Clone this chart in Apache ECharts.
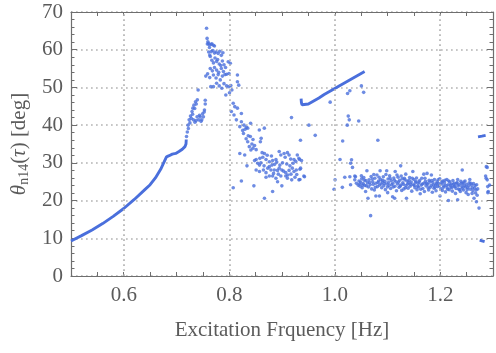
<!DOCTYPE html>
<html><head><meta charset="utf-8">
<script src="https://cdn.jsdelivr.net/npm/echarts@6/dist/echarts.min.js"></script>
<style>html,body{margin:0;padding:0;background:#fff}#c{width:496px;height:353px}</style>
</head><body><div id="c"></div>
<script>
// x tick labels and grid positions
const xLabels = ['0.6','0.8','1.0','1.2'];
const xGridValues = [0.6, 0.8, 1.0, 1.2];
// continuous low branch (dense points rendered as a thick line)
const curveLow = [[0.500,9.3],[0.520,10.7],[0.540,12.2],[0.560,13.9],[0.580,15.8],[0.600,17.9],[0.620,20.3],[0.640,22.9],[0.650,24.2],[0.660,26.0],[0.670,28.3],[0.675,29.8],[0.681,31.6],[0.686,31.9],[0.692,32.3],[0.6985,32.5],[0.7047,33.0],[0.711,33.6],[0.716,34.3],[0.718,35.0],[0.7185,36.2]];
// continuous upper branch
const curveUpper = [[0.9362,47.0],[0.9368,46.0],[0.938,45.4],[0.9415,44.9],[0.950,45.6],[0.960,46.4],[0.970,47.2],[0.980,48.1],[0.990,48.9],[1.000,49.7],[1.010,50.5],[1.020,51.3],[1.030,52.1],[1.040,52.9],[1.050,53.7],[1.0566,54.2]];
// short segments at right edge
const segHigh = [[1.2716,36.9],[1.279,37.1],[1.286,37.3]];
const segLow = [[1.2748,9.5],[1.279,9.3],[1.2841,9.1]];
// scattered points: rising streaks
const streaks = [[0.719,37.0],[0.7205,38.2],[0.722,40.0],[0.7225,39.1],[0.724,41.4],[0.7255,40.6],[0.7265,42.4],[0.728,41.8],[0.7295,43.6],[0.731,44.5],[0.7305,42.9],[0.733,45.3],[0.7345,44.4],[0.736,46.2],[0.7375,45.6],[0.7395,46.7],[0.741,49.3],[0.732,41.4],[0.735,40.8],[0.737,41.2],[0.739,42.2],[0.742,41.4],[0.7435,42.6],[0.745,42.2],[0.7465,41.0],[0.748,41.4],[0.7495,43.0],[0.751,42.2],[0.7525,43.5],[0.753,44.0],[0.7545,45.6],[0.7545,46.6]];
// peak cloud
const peakCloud = [[0.757,65.7],[0.758,63.0],[0.7595,62.1],[0.7585,61.5],[0.761,61.7],[0.762,61.3],[0.7625,60.6],[0.766,61.4],[0.767,61.6],[0.770,61.2],[0.772,61.0],[0.761,59.4],[0.763,58.6],[0.764,58.2],[0.766,59.5],[0.769,59.8],[0.772,59.1],[0.775,59.4],[0.779,59.0],[0.782,59.6],[0.785,58.5],[0.788,59.2],[0.767,57.2],[0.770,56.5],[0.773,57.8],[0.776,56.9],[0.778,57.4],[0.781,56.2],[0.784,55.8],[0.787,57.0],[0.790,56.0],[0.793,55.3],[0.798,56.8],[0.802,56.4],[0.764,55.0],[0.768,54.4],[0.772,55.3],[0.776,54.6],[0.780,54.0],[0.785,55.0],[0.789,54.2],[0.792,53.4],[0.7555,53.0],[0.759,53.6],[0.763,52.6],[0.770,53.3],[0.775,52.5],[0.779,53.4],[0.783,52.0],[0.787,53.0],[0.795,53.5],[0.7995,53.7],[0.765,50.2],[0.770,50.2],[0.776,51.1],[0.781,50.4],[0.786,49.8],[0.790,51.0],[0.795,50.4],[0.7995,50.2],[0.803,50.5],[0.805,49.3],[0.8005,48.6],[0.8155,51.5],[0.818,50.6],[0.7935,48.0],[0.8155,53.3]];
// descending cloud
const fallCloud = [[0.8075,45.8],[0.8105,44.9],[0.8155,44.5],[0.804,43.6],[0.809,42.7],[0.823,43.1],[0.8135,41.4],[0.823,40.9],[0.828,40.0],[0.8325,39.4],[0.8405,40.5],[0.820,39.6],[0.8255,38.6],[0.830,38.9],[0.835,39.2],[0.827,37.8],[0.836,37.2],[0.832,36.4],[0.840,37.0],[0.845,36.2],[0.835,35.6],[0.843,35.0],[0.838,34.3],[0.848,34.6],[0.841,33.4],[0.851,33.5],[0.845,33.9],[0.857,38.7],[0.8665,39.2],[0.8605,36.5],[0.859,35.6],[0.820,32.5],[0.8293,32.1],[0.8336,29.2],[0.823,25.2],[0.8075,23.4],[0.8467,23.9],[0.8667,20.6],[0.8822,22.4],[0.8997,23.9]];
// cluster around 0.85-0.94
const lowCluster = [[0.8623,32.7],[0.8667,32.5],[0.8636,31.5],[0.851,30.9],[0.854,29.9],[0.848,30.6],[0.8573,29.4],[0.8697,30.9],[0.876,30.3],[0.8822,30.6],[0.8885,30.9],[0.8947,33.0],[0.8978,32.1],[0.904,32.5],[0.9103,32.7],[0.9134,32.1],[0.906,31.5],[0.9165,31.0],[0.9227,30.9],[0.929,32.1],[0.9333,30.9],[0.937,30.6],[0.851,28.1],[0.8573,27.7],[0.8648,28.1],[0.8697,27.4],[0.876,29.0],[0.879,28.1],[0.881,29.4],[0.8854,28.1],[0.8916,28.0],[0.8947,28.6],[0.8997,28.1],[0.9071,27.4],[0.9134,28.0],[0.9196,28.6],[0.9227,27.7],[0.9271,28.1],[0.9352,28.6],[0.8697,26.2],[0.876,26.5],[0.8822,26.5],[0.8885,25.9],[0.8916,25.0],[0.8978,26.5],[0.9071,26.5],[0.9103,25.9],[0.9184,25.5],[0.9246,26.2],[0.9321,25.5],[0.9415,26.5],[0.858,31.2],[0.872,32.0],[0.880,31.8],[0.886,29.6],[0.890,30.2],[0.896,29.4],[0.901,30.0],[0.909,29.7],[0.915,29.2],[0.921,29.9],[0.926,30.4],[0.860,30.0],[0.866,29.2],[0.873,28.6],[0.884,27.2],[0.893,27.0],[0.903,27.8],[0.911,26.8],[0.917,27.0],[0.928,26.9],[0.932,31.2],[0.934,28.3],[0.9426,26.3],[0.934,25.6],[0.935,36.0],[0.951,40.0],[0.963,37.3],[0.918,42.0]];
// sparse points 0.99-1.09
const midSparse = [[0.9913,46.1],[1.0243,48.4],[1.0286,49.1],[1.0505,50.4],[1.0548,48.7],[1.0256,42.4],[1.0275,41.4],[1.0237,40.0],[1.0454,41.1],[1.015,35.8],[1.0817,36.0],[1.010,30.9],[1.0318,30.8],[1.030,29.9],[1.0336,28.8],[1.019,26.2],[1.0286,26.3],[1.0144,23.5],[1.0006,25.5],[0.9987,23.0],[1.0393,26.3],[1.0443,24.1],[1.038,26.5],[1.038,25.5],[1.0411,24.6],[1.030,24.2]];
// band 1.045-1.295
const band = [[1.046,25.2],[1.048,23.8],[1.049,24.9],[1.051,25.8],[1.052,23.4],[1.054,24.5],[1.055,26.1],[1.057,24.0],[1.0585,22.4],[1.059,25.3],[1.061,27.9],[1.062,24.7],[1.063,20.6],[1.064,23.6],[1.065,25.5],[1.067,24.2],[1.068,16.0],[1.069,26.4],[1.070,23.1],[1.072,25.0],[1.073,24.3],[1.075,22.8],[1.076,25.9],[1.078,21.2],[1.078,24.6],[1.080,26.8],[1.081,23.7],[1.083,25.2],[1.0847,21.2],[1.085,24.1],[1.086,27.9],[1.087,25.6],[1.089,23.4],[1.090,24.9],[1.092,26.3],[1.093,23.9],[1.095,25.1],[1.096,22.9],[1.0985,27.9],[1.099,24.4],[1.1003,22.1],[1.101,25.7],[1.103,24.0],[1.104,26.6],[1.106,23.2],[1.107,25.3],[1.1097,21.0],[1.110,24.6],[1.112,26.0],[1.1136,20.6],[1.114,23.8],[1.1146,27.7],[1.116,25.0],[1.117,22.6],[1.119,24.4],[1.120,26.2],[1.122,23.5],[1.123,25.4],[1.125,29.2],[1.125,24.1],[1.127,22.7],[1.128,25.8],[1.130,24.3],[1.131,23.1],[1.133,25.5],[1.1346,27.0],[1.135,24.0],[1.136,20.6],[1.137,25.2],[1.139,23.3],[1.140,24.7],[1.142,26.1],[1.143,23.8],[1.145,24.9],[1.146,22.5],[1.148,27.7],[1.149,24.2],[1.150,25.6],[1.152,23.4],[1.153,24.8],[1.155,26.0],[1.156,22.9],[1.158,24.5],[1.159,23.6],[1.161,25.3],[1.162,21.8],[1.164,24.1],[1.165,25.9],[1.1688,27.0],[1.167,23.2],[1.169,24.6],[1.170,22.4],[1.172,25.1],[1.173,23.9],[1.175,27.2],[1.176,24.3],[1.178,22.8],[1.179,25.4],[1.181,23.5],[1.1832,26.8],[1.183,24.0],[1.185,22.2],[1.186,24.8],[1.188,23.3],[1.189,25.6],[1.191,24.2],[1.192,22.6],[1.194,25.0],[1.195,23.7],[1.197,24.5],[1.1995,21.2],[1.199,25.8],[1.201,23.1],[1.202,24.4],[1.204,22.7],[1.205,25.2],[1.207,23.9],[1.208,24.7],[1.210,22.3],[1.2125,25.6],[1.213,23.4],[1.2155,20.0],[1.215,24.2],[1.217,22.9],[1.218,25.0],[1.220,23.6],[1.221,24.4],[1.223,22.5],[1.224,25.3],[1.226,23.8],[1.227,24.6],[1.229,21.9],[1.230,23.2],[1.233,25.6],[1.233,20.2],[1.232,24.8],[1.235,23.0],[1.236,24.2],[1.238,22.4],[1.239,25.1],[1.2417,28.1],[1.241,23.7],[1.243,24.5],[1.244,22.8],[1.246,23.9],[1.247,25.2],[1.249,22.1],[1.250,24.3],[1.252,23.4],[1.253,21.6],[1.255,24.7],[1.256,25.6],[1.257,23.0],[1.259,24.1],[1.2604,21.9],[1.262,22.6],[1.263,24.5],[1.264,20.6],[1.265,23.3],[1.2686,19.7],[1.267,22.0],[1.269,24.2],[1.2735,18.0],[1.271,23.1],[1.286,26.5],[1.2873,29.0],[1.289,28.8],[1.287,25.9],[1.289,25.5],[1.290,23.7],[1.2903,22.1],[1.291,22.4],[1.2935,24.1]];
const bandExtra = [[1.0475,24.4],[1.0505,26.6],[1.053,24.1],[1.056,25.4],[1.060,23.9],[1.066,24.8],[1.071,25.7],[1.074,26.9],[1.077,23.5],[1.082,24.8],[1.084,26.2],[1.088,24.4],[1.091,25.4],[1.094,24.5],[1.097,26.9],[1.100,23.6],[1.102,24.8],[1.105,25.9],[1.108,24.2],[1.111,23.6],[1.113,25.4],[1.118,26.8],[1.121,24.9],[1.124,23.8],[1.126,26.5],[1.129,24.7],[1.132,25.9],[1.134,23.4],[1.138,24.4],[1.141,25.4],[1.144,24.3],[1.147,25.9],[1.151,24.0],[1.154,25.1],[1.157,23.8],[1.160,24.9],[1.163,23.0],[1.166,24.4],[1.171,25.9],[1.174,24.6],[1.177,23.4],[1.180,24.9],[1.184,25.3],[1.187,24.1],[1.190,23.5],[1.193,24.5],[1.196,25.5],[1.198,23.9],[1.203,24.9],[1.206,23.5],[1.209,25.4],[1.211,24.0],[1.214,23.0],[1.216,25.2],[1.219,24.1],[1.222,23.4],[1.225,24.3],[1.228,23.7],[1.231,24.5],[1.234,23.9],[1.237,22.9],[1.240,24.6],[1.242,23.3],[1.245,24.9],[1.248,23.6],[1.251,22.9],[1.254,23.9],[1.258,24.6],[1.261,23.4],[1.266,24.0],[1.268,22.8],[1.270,21.4]];

const BLUE = '#4a6fdc';
const FONT = 'Liberation Serif';
const TXT = '#5b5b5b';
const AX = '#6e6e6e';

const chart = echarts.init(document.getElementById('c'), null, {renderer:'canvas'});
const xFmt = v => { const s = (Math.round(v*100)/100).toFixed(1); const r = Math.round(v*100); return (r % 20 === 0 && xLabels.includes(s)) ? s : ''; };
const scatterStyle = (data) => ({type:'scatter', data, symbolSize:3.6, itemStyle:{color:BLUE}, silent:true, z:3});
const lineStyleSeries = (data) => ({type:'line', data, symbol:'none', lineStyle:{color:BLUE, width:2.9}, silent:true, z:3});

chart.setOption({
  animation:false,
  grid:{left:71, right:-2, top:12, bottom:77, containLabel:false},
  xAxis:[
    {type:'value', position:'bottom', min:0.5, max:1.3, interval:0.05,
     name:'Excitation Frquency [Hz]', nameLocation:'middle', nameGap:44,
     nameTextStyle:{fontFamily:FONT, fontSize:21, color:TXT},
     axisLine:{show:true, onZero:false, lineStyle:{color:AX, width:1.2}},
     axisTick:{show:true, inside:true, length:4, lineStyle:{color:AX}},
     axisLabel:{formatter:xFmt, interval:0, fontFamily:FONT, fontSize:21, color:TXT, margin:9, showMinLabel:true, showMaxLabel:true},
     splitLine:{show:false}},
    {type:'value', position:'top', min:0.5, max:1.3, interval:0.05,
     axisLine:{show:true, onZero:false, lineStyle:{color:AX, width:1.2}},
     axisTick:{show:true, inside:true, length:4, lineStyle:{color:AX}},
     axisLabel:{show:false}, splitLine:{show:false}}
  ],
  yAxis:[
    {type:'value', position:'left', min:0, max:70, interval:10,
     name:'{it|θ}{sub|n14}({it|τ}) [deg]', nameLocation:'middle', nameGap:40, nameRotate:90,
     nameTextStyle:{fontFamily:FONT, fontSize:21, color:TXT,
       rich:{it:{fontFamily:FONT, fontSize:21, fontStyle:'italic', color:TXT},
             sub:{fontFamily:FONT, fontSize:14, color:TXT, padding:[9,0,0,0]}}},
     axisLine:{show:true, onZero:false, lineStyle:{color:AX, width:1.2}},
     axisTick:{show:true, inside:true, length:6, lineStyle:{color:AX}},
     minorTick:{show:true, splitNumber:5, length:3.5, lineStyle:{color:AX}},
     axisLabel:{fontFamily:FONT, fontSize:21, color:TXT, margin:8},
     splitLine:{show:true, lineStyle:{color:'#b4b4b4', width:1.7, type:[1.7,3.3]}}},
    {type:'value', position:'right', min:0, max:70, interval:10,
     axisLine:{show:true, onZero:false, lineStyle:{color:AX, width:1.2}},
     axisTick:{show:true, inside:true, length:6, lineStyle:{color:AX}},
     minorTick:{show:true, splitNumber:5, length:3.5, lineStyle:{color:AX}},
     axisLabel:{show:false}, splitLine:{show:false}}
  ],
  series:[
    {type:'line', data:[], silent:true, z:1,
     markLine:{silent:true, symbol:'none', label:{show:false},
       lineStyle:{color:'#b4b4b4', width:1.7, type:[1.7,3.3]},
       data: xGridValues.map(v => ({xAxis:v}))}},
    lineStyleSeries(curveLow),
    lineStyleSeries(curveUpper),
    lineStyleSeries(segHigh),
    lineStyleSeries(segLow),
    scatterStyle(streaks),
    scatterStyle(peakCloud),
    scatterStyle(fallCloud),
    scatterStyle(lowCluster),
    scatterStyle(midSparse),
    scatterStyle(band),
    scatterStyle(bandExtra)
  ]
});
</script></body></html>
